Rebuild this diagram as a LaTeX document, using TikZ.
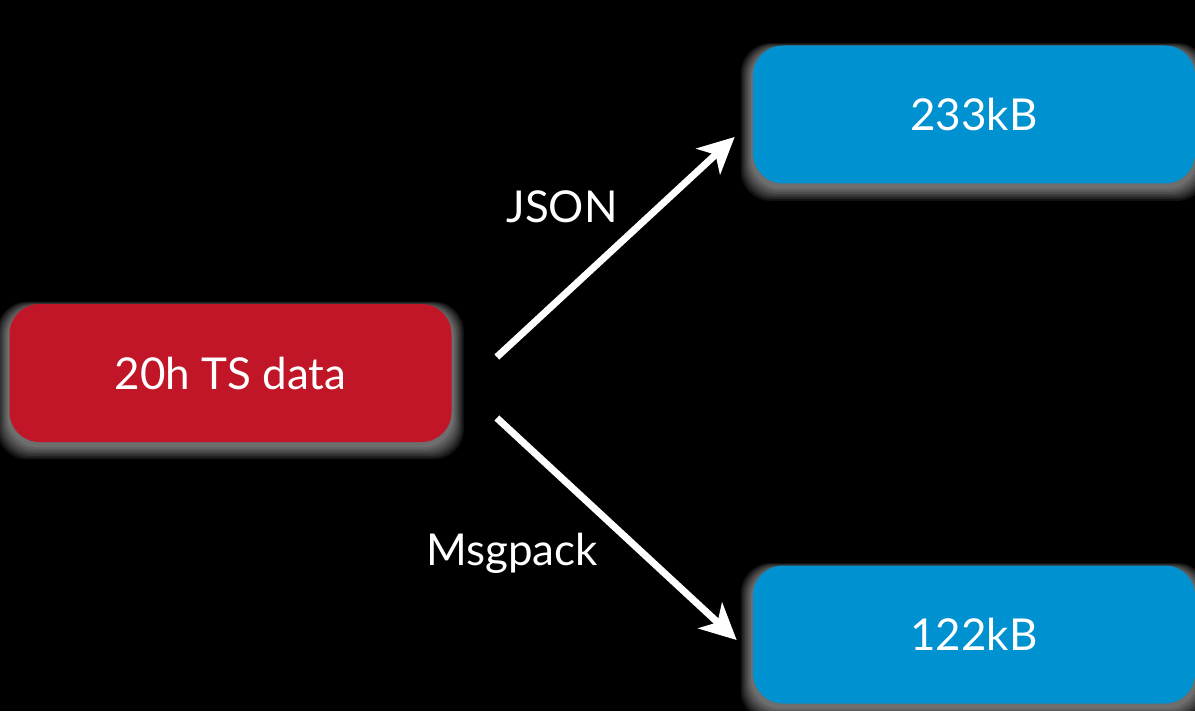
\documentclass[tikz,border=0pt]{standalone}
\usepackage{fontspec}
\setmainfont{Lato}
\usepackage{tikz}
\usetikzlibrary{arrows.meta,backgrounds}

\definecolor{srcred}{RGB}{192,22,39}
\definecolor{outblue}{RGB}{0,145,208}

\begin{document}
\begin{tikzpicture}[
    box/.style={rounded corners=0.6cm, minimum width=8.84cm, minimum height=2.76cm,
      text=white, font=\fontsize{25}{30}\selectfont},
    arr/.style={white, line width=4pt, -{Stealth[length=0.72cm,width=0.7cm,inset=0.2cm]}},
    lbl/.style={text=white, font=\fontsize{25}{30}\selectfont}
  ]
    \useasboundingbox (0,0) rectangle (23.9,14.22);
    \node[box, fill=srcred] (src) at (4.61,6.76) {20h TS data};
    \node[box, fill=outblue] (json) at (19.48,11.93) {233kB};
    \node[box, fill=outblue] (msg) at (19.48,1.53) {122kB};
    \draw[arr] ([shift={(0.9,0.32)}]src.east) -- ([shift={(-0.36,-0.45)}]json.west);
    \draw[arr] ([shift={(0.9,-0.9)}]src.east) -- ([shift={(-0.32,-0.11)}]msg.west);
    \node[lbl] (jsonlbl) at (11.24,10.08) {JSON};
    \node[lbl] (msglbl) at (10.24,3.16) {Msgpack};
    % glow behind the boxes
    \begin{pgfonlayer}{background}
      \fill[black] (0,0) rectangle (23.9,14.22);
      \foreach \n in {src,json,msg}
        \foreach \i in {1,...,8}
          \fill[white, opacity=0.07, rounded corners=0.6cm]
            ([shift={(-\i*0.03,\i*0.015-0.08)}]\n.north west) rectangle ([shift={(\i*0.03,-\i*0.035-0.06)}]\n.south east);
    \end{pgfonlayer}
  \end{tikzpicture}
\end{document}
